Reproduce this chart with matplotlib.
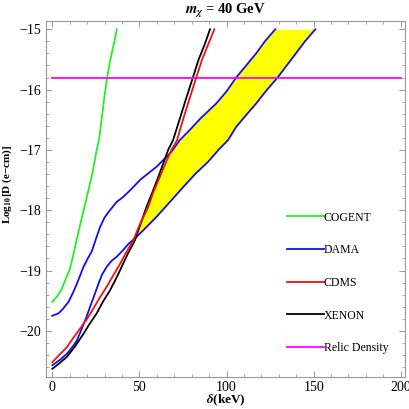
import numpy as np
import matplotlib
matplotlib.use('Agg')
import matplotlib.pyplot as plt
from matplotlib.ticker import MultipleLocator

plt.rcParams['font.family'] = ['Liberation Serif', 'DejaVu Serif']
plt.rcParams['mathtext.fontset'] = 'stix'
plt.rcParams['axes.unicode_minus'] = True

# COGENT
cogent_x = [0, 3, 5.5, 8, 10, 12, 13.5, 15.5, 18, 20.5, 23, 25.5, 27, 28.5, 30, 31.5, 33, 34.5, 36, 37]
cogent_y = [-19.52, -19.42, -19.3, -19.12, -18.98, -18.75, -18.55, -18.3, -18.0, -17.7, -17.39, -17.0,
            -16.8, -16.45, -16.1, -15.8, -15.55, -15.35, -15.15, -15.0]

# DAMA 上边界
dama_up_x = [0, 3.6, 6, 9.3, 12, 14.1, 16, 17.9, 20, 22.7, 25, 27.4, 30, 33.1, 37, 40.7, 45, 50.3, 55,
             59.8, 64, 68.4, 73.1, 78.9, 85, 94.1, 100, 105.5, 111, 117, 122, 128]
dama_up_y = [-19.75, -19.71, -19.64, -19.52, -19.36, -19.22, -19.08, -18.94, -18.82, -18.68, -18.48,
             -18.28, -18.12, -18.0, -17.86, -17.78, -17.66, -17.5, -17.39, -17.28, -17.16, -17.03,
             -16.84, -16.67, -16.48, -16.23, -16.03, -15.8, -15.61, -15.4, -15.2, -15.0]

# DAMA 下边界
dama_lo_x = [0, 4, 8.4, 12, 14.1, 17, 19.5, 21.7, 24, 26.5, 28.5, 31.2, 34, 37, 40.7, 44, 48.4, 53,
             59.8, 67, 75, 82, 89.3, 96, 100.8, 105.5, 111, 117, 123, 129.3, 134, 139.8, 145, 151]
dama_lo_y = [-20.57, -20.49, -20.38, -20.25, -20.16, -19.96, -19.78, -19.6, -19.42, -19.22, -19.07,
             -18.94, -18.84, -18.77, -18.66, -18.55, -18.44, -18.31, -18.11, -17.88, -17.62, -17.4,
             -17.2, -16.98, -16.84, -16.62, -16.43, -16.23, -16.01, -15.8, -15.62, -15.4, -15.2, -15.0]

# CDMS
cdms_x = [0, 4, 8.4, 12, 16, 20, 23.6, 27, 31.2, 35, 38.9, 42, 46.5, 50, 55, 58, 61.7, 65, 68.4, 71.6,
          75, 79, 82.7, 86, 89.5, 93]
cdms_y = [-20.52, -20.4, -20.27, -20.12, -19.96, -19.8, -19.63, -19.46, -19.27, -19.08, -18.89, -18.72,
          -18.5, -18.25, -17.95, -17.7, -17.45, -17.22, -17.0, -16.84, -16.5, -16.13, -15.79, -15.5,
          -15.25, -15.0]

# XENON
xenon_x = [0, 4, 8.4, 13, 17.9, 21.5, 25.5, 29, 33.1, 36.5, 39.8, 43, 47.4, 50.5, 54, 57.5, 60.8, 64,
           66.5, 69.3, 73, 77, 80.8, 84, 87.5, 90.5]
xenon_y = [-20.63, -20.54, -20.43, -20.26, -20.05, -19.88, -19.71, -19.52, -19.33, -19.14, -18.94,
           -18.74, -18.5, -18.24, -17.95, -17.7, -17.45, -17.2, -17.0, -16.84, -16.5, -16.13, -15.79,
           -15.5, -15.25, -15.0]

# Relic Density
relic_x = [0, 200]
relic_y = [-15.81, -15.81]

fig = plt.figure(figsize=(4.09, 4.09), dpi=100)
ax = fig.add_axes([0.1125, 0.079, 0.878, 0.870])

# 黄色区域: DAMA 区域中未被 CDMS/XENON 排除的部分
yy = np.linspace(-18.7, -15.0, 400)
left = np.maximum.reduce([np.interp(yy, cdms_y, cdms_x),
                          np.interp(yy, xenon_y, xenon_x),
                          np.interp(yy, dama_up_y, dama_up_x)])
right = np.interp(yy, dama_lo_y, dama_lo_x)
ax.fill_betweenx(yy, left, right, where=right > left, color='#ffff00', lw=0, zorder=1)

lw = 1.3
ax.plot(cogent_x, cogent_y, color='#22f022', lw=lw, label='COGENT', zorder=3)
ax.plot(dama_up_x, dama_up_y, color='#1010f0', lw=lw, label='DAMA', zorder=3)
ax.plot(dama_lo_x, dama_lo_y, color='#1010f0', lw=lw, zorder=3)
ax.plot(cdms_x, cdms_y, color='#f01111', lw=lw, label='CDMS', zorder=4)
ax.plot(xenon_x, xenon_y, color='black', lw=lw, label='XENON', zorder=3)
ax.plot(relic_x, relic_y, color='#ff00ff', lw=lw, label='Relic Density', zorder=3)

ax.set_xlim(-3.6, 202.5)
ax.set_ylim(-20.76, -14.86)

ax.xaxis.set_major_locator(MultipleLocator(50))
ax.xaxis.set_minor_locator(MultipleLocator(10))
ax.yaxis.set_major_locator(MultipleLocator(1))
ax.yaxis.set_minor_locator(MultipleLocator(0.2))
ax.tick_params(which='both', direction='in', top=True, right=True, color='#999999', labelsize=10)
ax.tick_params(which='major', length=4, width=0.7)
ax.tick_params(which='minor', length=2.2, width=0.6)
ax.tick_params(axis='x', pad=3)
for s in ax.spines.values():
    s.set_color('#999999')
    s.set_linewidth(0.8)

ax.set_title(r'$\mathbfit{m}_{\mathbfit{\chi}}$ = 40 GeV', fontsize=10.5, fontweight='bold', pad=5)
ax.set_xlabel(r'$\mathbfit{\delta}$(keV)', fontsize=9.5, fontweight='bold')
ax.xaxis.set_label_coords(0.5, -0.046)
ax.set_ylabel(r'Log$_{\mathbf{10}}$[D (e−cm)]', fontsize=8, fontweight='bold')
ax.yaxis.set_label_coords(-0.09, 0.54)

ax.legend(loc='upper left', bbox_to_anchor=(0.672, 0.464), frameon=False, fontsize=8.5,
          handlelength=3.1, handletextpad=0.0, labelspacing=1.75, borderpad=0, borderaxespad=0)

plt.savefig('out.png', dpi=100)
